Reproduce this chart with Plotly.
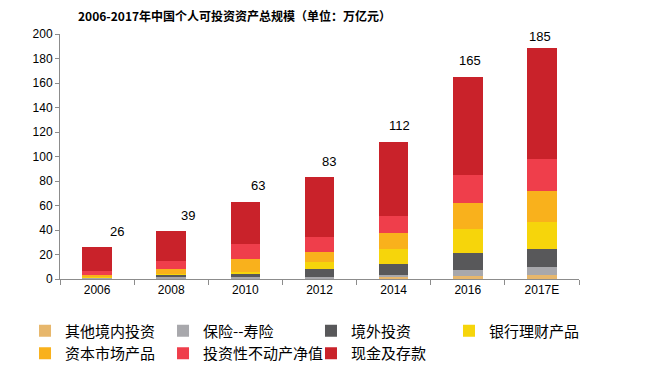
import plotly.graph_objects as go

years = ["2006", "2008", "2010", "2012", "2014", "2016", "2017E"]
other_domestic = [0.3, 0.4, 0.3, 0.3, 1.4, 2.4, 3.3]
insurance = [1.0, 1.5, 1.6, 1.6, 2.1, 4.9, 6.5]
overseas = [0.2, 1.5, 1.9, 6.5, 9.0, 13.9, 14.6]
bank_wealth = [0.3, 0.3, 2.2, 5.7, 12.2, 19.5, 22.3]
capital_market = [1.5, 4.4, 10.3, 7.9, 13.0, 21.2, 25.0]
real_estate = [3.5, 6.6, 12.2, 12.2, 13.6, 22.8, 26.1]
cash_deposits = [19.2, 24.3, 34.5, 48.8, 60.7, 80.3, 90.4]
totals = [26, 39, 63, 83, 112, 165, 185]

# (name, values, colour, legend column)
series = [
    ("其他境内投资", other_domestic, "#E7B76C", "legend"),
    ("保险--寿险", insurance, "#A8A8AC", "legend2"),
    ("境外投资", overseas, "#58585A", "legend3"),
    ("银行理财产品", bank_wealth, "#F6D50B", "legend4"),
    ("资本市场产品", capital_market, "#F9B11C", "legend"),
    ("投资性不动产净值", real_estate, "#EF3E4B", "legend2"),
    ("现金及存款", cash_deposits, "#C9222A", "legend3"),
]

fig = go.Figure()
for name, vals, color, lg in series:
    fig.add_trace(go.Bar(x=years, y=vals, name=name, legend=lg,
                         marker=dict(color=color, line=dict(width=0))))

for i, t in enumerate(totals):
    fig.add_annotation(x=i, y=t, text=str(t), showarrow=False,
                       yshift=16, xshift=20 - 3.6 * i,
                       font=dict(family="Liberation Sans, Arial", size=13, color="#000000"))

fig.add_annotation(xref="paper", yref="paper", x=(234 - 60) / 519, y=1.0, yshift=19,
                   text="<b>2006-2017年中国个人可投资资产总规模（单位：万亿元）</b>",
                   showarrow=False, xanchor="center", yanchor="middle",
                   font=dict(family="Noto Sans CJK SC", size=12, color="#000000"))

def legend_style(xpos):
    return dict(orientation="v", x=xpos, xanchor="left", y=-0.145, yanchor="top",
                traceorder="normal", tracegroupgap=0, itemwidth=30,
                bgcolor="rgba(0,0,0,0)",
                font=dict(family="Noto Sans CJK SC", size=15, color="#000000"))

fig.update_layout(
    width=656, height=359,
    margin=dict(l=52, r=85, t=26, b=88, autoexpand=False),
    barmode="stack", bargap=0.6,
    plot_bgcolor="white", paper_bgcolor="white",
    showlegend=True,
    legend=legend_style(-0.0674),
    legend2=legend_style(0.1985),
    legend3=legend_style(0.4836),
    legend4=legend_style(0.7495),
    xaxis=dict(type="category", range=[-0.5, len(years) - 0.5], showline=True,
               linecolor="#8C8C8C", linewidth=1, ticks="outside",
               tickson="boundaries", ticklen=5, tickcolor="#8C8C8C",
               tickfont=dict(family="Liberation Sans, Arial", size=12, color="#000000"),
               showgrid=False, zeroline=False),
    yaxis=dict(range=[0, 200], dtick=20, showline=True, linecolor="#8C8C8C", linewidth=1,
               ticks="outside", ticklen=4, tickcolor="#8C8C8C",
               tickfont=dict(family="Liberation Sans, Arial", size=12, color="#000000"),
               showgrid=False, zeroline=False),
)

fig.write_html("out.html")
